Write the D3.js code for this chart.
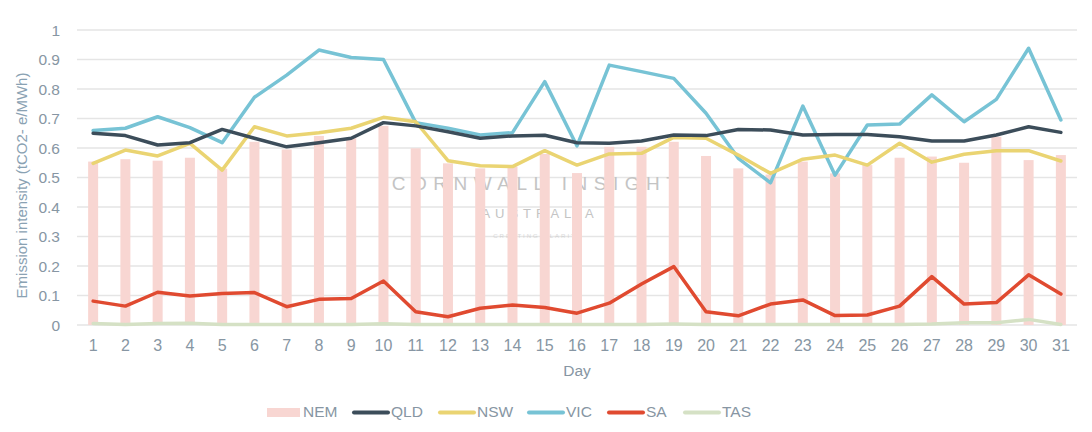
<!DOCTYPE html>
<html><head><meta charset="utf-8">
<script src="https://cdn.jsdelivr.net/npm/d3@7"></script>
<style>
html,body{margin:0;padding:0;background:#fff;}
svg{display:block;font-family:"Liberation Sans",Arial,sans-serif;}
</style></head>
<body>
<svg id="chart" width="1092" height="432"></svg>
<script>
const days = d3.range(1, 32).map(String);
const yTicks = [0, 0.1, 0.2, 0.3, 0.4, 0.5, 0.6, 0.7, 0.8, 0.9, 1];
const NEM = [0.554,0.562,0.557,0.567,0.53,0.621,0.595,0.641,0.633,0.675,0.599,0.548,0.531,0.537,0.58,0.515,0.604,0.604,0.621,0.573,0.531,0.51,0.554,0.514,0.542,0.567,0.571,0.55,0.638,0.559,0.576];
const QLD = [0.65,0.642,0.61,0.618,0.663,0.633,0.604,0.618,0.633,0.686,0.675,0.655,0.633,0.641,0.643,0.618,0.616,0.624,0.644,0.642,0.663,0.661,0.644,0.646,0.646,0.638,0.624,0.624,0.644,0.672,0.653];
const NSW = [0.548,0.593,0.573,0.616,0.525,0.672,0.641,0.652,0.667,0.704,0.689,0.557,0.54,0.537,0.591,0.542,0.58,0.582,0.636,0.633,0.576,0.514,0.562,0.576,0.542,0.616,0.552,0.579,0.591,0.591,0.556];
const VIC = [0.659,0.667,0.706,0.669,0.618,0.772,0.847,0.932,0.907,0.9,0.686,0.667,0.644,0.652,0.825,0.607,0.881,0.859,0.836,0.718,0.565,0.482,0.742,0.508,0.678,0.681,0.78,0.689,0.765,0.938,0.695];
const SA  = [0.081,0.064,0.111,0.098,0.107,0.11,0.062,0.087,0.09,0.149,0.045,0.028,0.057,0.068,0.059,0.04,0.074,0.139,0.198,0.045,0.031,0.071,0.085,0.032,0.034,0.064,0.164,0.071,0.076,0.17,0.105];
const TAS = [0.005,0.002,0.005,0.006,0.002,0.002,0.002,0.002,0.002,0.004,0.002,0.002,0.002,0.002,0.002,0.002,0.002,0.002,0.003,0.002,0.002,0.002,0.002,0.002,0.002,0.002,0.003,0.008,0.008,0.019,0.002];

const lineSeries = [
  {name:"QLD", values:QLD, color:"#3c4d5a"},
  {name:"NSW", values:NSW, color:"#ead472"},
  {name:"VIC", values:VIC, color:"#77c3d5"},
  {name:"SA",  values:SA,  color:"#e04a30"},
  {name:"TAS", values:TAS, color:"#d5e1c5"}
];
const nemColor = "#f8d6d2";

const svg = d3.select("#chart");
const m = {left:77, right:1077, top:30, bottom:325};
const x = d3.scaleBand().domain(days).range([m.left, m.right]);
const y = d3.scaleLinear().domain([0,1]).range([m.bottom, m.top]);
const textColor = "#8796a3";

// gridlines
svg.append("g").selectAll("line").data(yTicks).join("line")
  .attr("x1", m.left).attr("x2", m.right)
  .attr("y1", d=>y(d)).attr("y2", d=>y(d))
  .attr("stroke","#e5e5e5").attr("stroke-width",1.5);

// y axis
const yAxis = svg.append("g").attr("transform",`translate(${m.left-14},0)`)
  .call(d3.axisLeft(y).tickValues(yTicks).tickSize(0).tickFormat(d3.format("~g")));
yAxis.select(".domain").remove();
yAxis.selectAll("text").attr("fill",textColor).attr("font-size",15.5).attr("dy","0.35em");

// x axis
const xAxis = svg.append("g").attr("transform",`translate(0,${m.bottom+12})`)
  .call(d3.axisBottom(x).tickSize(0));
xAxis.select(".domain").remove();
xAxis.selectAll("text").attr("fill",textColor).attr("font-size",16).attr("dy","0.71em");

// axis titles
svg.append("text").attr("x",577).attr("y",376).attr("text-anchor","middle")
  .attr("fill",textColor).attr("font-size",15.5).text("Day");
svg.append("text").attr("transform",`translate(27,${(m.top+m.bottom)/2+8}) rotate(-90)`)
  .attr("text-anchor","middle").attr("fill","#8aa2b3").attr("font-size",15)
  .text("Emission intensity (tCO2- e/MWh)");

// watermark
const wm = svg.append("g").attr("fill","#c4c4c4").attr("text-anchor","middle");
wm.append("text").attr("x",538).attr("y",190).attr("font-size",19).attr("letter-spacing",6.5).text("CORNWALL INSIGHT");
wm.append("text").attr("x",540).attr("y",218).attr("font-size",13).attr("letter-spacing",5).text("AUSTRALIA");
wm.append("text").attr("x",538).attr("y",238).attr("font-size",6).attr("letter-spacing",2).attr("opacity",0.6).text("CREATING CLARITY");

// NEM bars
const bw = 10;
svg.append("g").selectAll("rect").data(NEM).join("rect")
  .attr("x",(d,i)=>x(days[i])+x.bandwidth()/2-bw/2)
  .attr("width",bw)
  .attr("y",d=>y(d)).attr("height",d=>y(0)-y(d))
  .attr("fill",nemColor);

// lines
const line = d3.line().x((d,i)=>x(days[i])+x.bandwidth()/2).y(d=>y(d));
const order = ["TAS","SA","VIC","NSW","QLD"];
svg.append("g").selectAll("path").data(order.map(n=>lineSeries.find(s=>s.name===n))).join("path")
  .attr("d",s=>line(s.values)).attr("fill","none")
  .attr("stroke",s=>s.color).attr("stroke-width",3.5)
  .attr("stroke-linejoin","round").attr("stroke-linecap","round");

// legend
const legend = svg.append("g").attr("font-size",15.5).attr("fill",textColor);
const items = [
  {name:"NEM", type:"bar", color:nemColor, x0:267},
  {name:"QLD", type:"line", color:lineSeries[0].color, x0:352},
  {name:"NSW", type:"line", color:lineSeries[1].color, x0:438},
  {name:"VIC", type:"line", color:lineSeries[2].color, x0:527},
  {name:"SA",  type:"line", color:lineSeries[3].color, x0:607},
  {name:"TAS", type:"line", color:lineSeries[4].color, x0:683}
];
const ly = 412;
items.forEach(it=>{
  if(it.type==="bar"){
    legend.append("rect").attr("x",it.x0).attr("y",ly-4).attr("width",33).attr("height",9).attr("fill",it.color);
  } else {
    legend.append("line").attr("x1",it.x0+2).attr("x2",it.x0+36).attr("y1",ly+0.5).attr("y2",ly+0.5)
      .attr("stroke",it.color).attr("stroke-width",4).attr("stroke-linecap","round");
  }
  legend.append("text").attr("x",it.x0+(it.type==="bar"?36:39)).attr("y",ly).attr("dy","0.35em").text(it.name);
});
</script>
</body></html>
